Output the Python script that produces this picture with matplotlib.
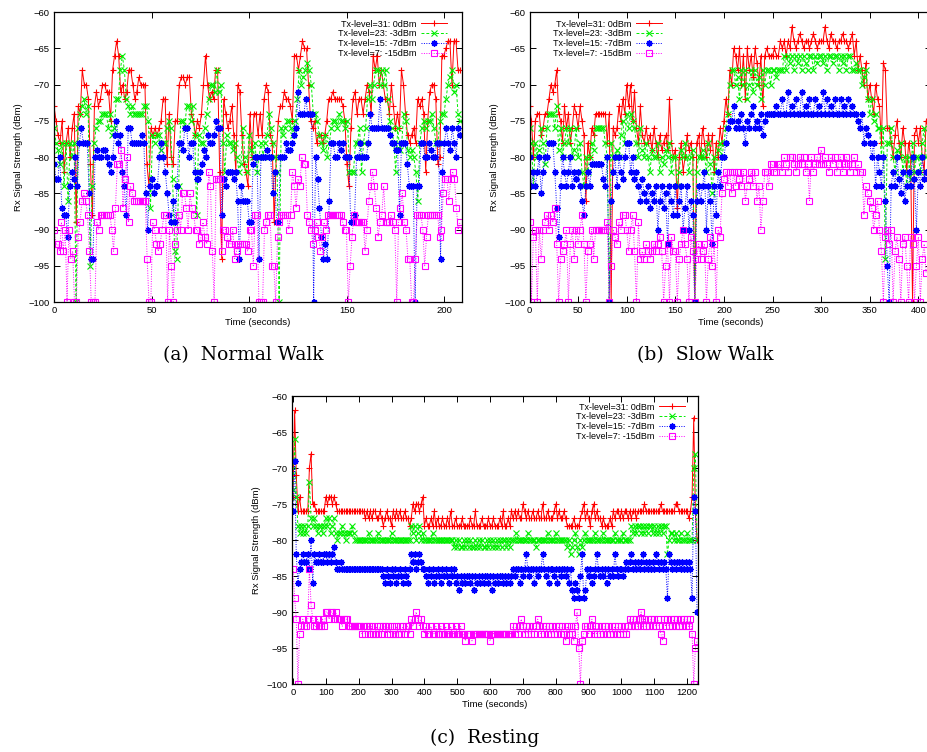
#!/usr/bin/env python3
"""Rx signal strength vs time at four Tx levels: normal walk, slow walk, resting."""

import matplotlib

matplotlib.use("Agg")
import matplotlib.pyplot as plt
import numpy as np

plt.rcParams["font.family"] = ["Liberation Sans", "DejaVu Sans"]

LABELS = ["Tx-level=31: 0dBm", "Tx-level=23: -3dBm", "Tx-level=15: -7dBm", "Tx-level=7: -15dBm"]
COLORS = ["#ff0000", "#00ee00", "#0000ff", "#ff00ff"]
CAPTIONS = ["(a)  Normal Walk", "(b)  Slow Walk", "(c)  Resting"]

# values are |dBm|; "v*n" = n repeated samples
# (a) normal walk, ~1 s samples over 0-208 s
RED_A = """73 75 77 78 75 82 78 76 80 76 74 89 73 74 68 70 70 72 81 88 73 71 73 72 70 70 71 71 75 68
66 64 66 71 70 72 71 68 68 70 72 71 69 70 70 70 81 84 76 77 76 77 76 75 72 72 81 74 80 81 75 75 70 69 69 70
69 69 74 75 77 75 76 74 70 66 70 72 71 72 68 68 82 94 72 74 76 75 73 77 82 70 71 77 81 82 84 74 80 74 74 77
74 77 72 70 71 77 78 89 80 75 73 73 71 72 72 73 75 66 66 68 66 64 65 65 70 75 76 75 78 77 77 78
77 75 72 72 71 72 72 72 72 73 75 81 84 76 72 71 74 72 72 74 72 70 71 74 66 68 66 70 68 70 72 72 74 70 73 76
74 76 68 70 74 77 78 77 76 78 72 73 72 74 82 75 71 70 70 72 81 80 66 66 65 64 64 70 64 64 68 68"""
GREEN_A = """76 78 79 81 78 84 78 86 78 80 78 100 76 74 73 72 74 73 95 84 78 76 75 75 74 74 74 76 74 77 76 72
72 68 66 68 72 73 74 73 74 74 74 74 74 73 73 75 87 77 78 77 77 79 78 78 76 75 76 83 93 94 84 75 75 76 73 73 75
73 77 88 77 78 78 76 74 72 70 70 71 68 71 70 78 82 77 78 78 79 78 80 82 81 76 80 82 77 79 80 78 82 80 78 80
78 77 74 76 78 80 82 100 76 77 76 75 75 76 77 75 72 68 70 69 68 67 68 70 74 74 75 77 78 79 77 80
78 76 75 75 76 74 75 75 76 75 82 82 82 78 78 76 82 78 76 72 70 72 70 68 68 70 68 70 68 72 75 76 78 82 76 79
78 74 75 79 80 79 80 82 86 78 76 75 76 75 75 74 76 78 78 75 74 74 72 70 69 68 71 70 74 75"""
BLUE_A = """81 83 83 80 87 88 88 91 84 82 83 80 84 78 76 78 78 78 85 94 94 80 79 80 80 79 79 80 81 82 80 77 75
78 77 82 84 88 76 76 78 78 78 78 78 77 78 85 90 84 83 85 84 84 80 78 80 82 85 88 89 86 89 84 78 78 79 76 76 80
78 78 82 83 83 82 81 79 80 77 78 78 77 75 76 76 88 83 84 82 82 82 83 82 86 94 84 86 86 86 89 89 81 80 80 94
80 80 80 79 80 80 85 82 89 89 80 80 80 78 79 79 78 77 76 71 74 74 74 72 74 74 74 100 80 83 87 91 94 92
94 86 78 78 80 80 78 79 78 80 80 80 89 89 88 80 80 78 80 80 80 78 74 76 76 76 76 72 76 76 76 76 77 78 78 79
79 88 78 78 78 81 84 84 84 100 84 84 78 78 80 80 78 79 80 80 78 78 94 82 78 76 78 79 76 78 80 76 77"""
MAG_A = """90 92 92 93 89 93 90 100 90 94 93 100 100 91 89 86 85 86 88 93 100 100 100 89 90 88 88 88 88 88 88
90 93 87 81 81 79 87 83 80 89 84 85 86 86 86 86 86 86 86 94 100 100 89 90 92 93 92 90 88 88 100 90 95 100 92
90 88 90 85 85 87 90
85 87 88 90 90 92 91 89 91 92 82 84 93 100 83 83 83 93 90 90 91 92 92 90 94 93 92 92 92 92 92 93 90 90 95 88
88 100 100 100 90 89 88 88 95 95 100 91 89 88 88 88 88 90 88 82 84 87 83 84 80 81 81 88 89 90 92 90 89 91 93 91 89
90 88 88 88 88 88 88 88 88 89 90 90 100 95 91 88 89 89 89 89 89 93 90 86 84 82 84 87 91 89 88 84 89 89 89 88
89 90 100 89 87 85 89 90 94 94 100 100 94 88 88 88 90 95 91 88 88 88 88 88 88 91 90 85 83 83 86 83 82 83 87 90 89"""

# (b) slow walk, 2 s samples over 0-408 s
RED_B = """73 75 80 75 74 74 77 76 74 74 72 70 71 70 68 74 75 78 73 76 74 78 76 73 74 76 73 75 77 86
78 80 76 77 74 74*5 78 74 100 76 77 76 73 75 72 74 70 73 70 75 71 76 78 73 77 78
76 78 77 79 76 78 80 77 79 78 77 79 72 78 80 79 87 80 78 82 80 77 79 78 80 100 78 77 80 76
78 80 77 79 77 82 78 80 76 78 75 72 74 68 70 65 66 68 65 70 66 72 65 68 66 69 65 67 70 66
73 66 65 66 66 66 65 66 66 64 65 64 66 64 65 62 64 65 64 63 64 65 64 64 65 64 63 64 65 64
64 64 62 64 65 63 64 64 65 64 64 63 64 64 65 64 63 66 64 68 66 68 70 67 72 70 72 74 70 72
73 78 67 68 76 76 78 80 77 75 78 80 76 78 82 78 80 100 77 76 78 76 80 82 75"""
GREEN_B = """76 78 84 78 80 79 76 78 81 76 74 74 74 76 73 79 76 80 78 76 78 76 80 79 76 80 78 82 84 80
82 80 78 79 76 76 76 76 76 78 80 100 78 80 80 79 80 77 75 78 74 76 74 75 76 78 80 76 79 80
78 80 82 79 80 80 78 82 80 81 79 80 78 82 80 80 84 82 79 80 78 80 82 80 79 100 82 80 80 79
80 82 78 81 85 80 82 79 78 80 78 76 74 70 68 68 70 69 72 68 70 68 72 70 68 71 68 70 69 72
68 70 68 68 70 68 68 69 68 68 68 66 68 66 67 66 68 66 67 66 68 66 67 68 66 66 68 66 67 66
66 67 66 68 66 66 67 66 66 68 66 67 66 68 66 66 68 68 67 68 68 70 69 68 72 74 72 75 74 76
76 80 76 94 78 78 76 80 82 79 80 78 82 80 84 80 83 78 82 80 80 82 78 76 80"""
BLUE_B = """80 84 82 84 82 80 85 82 80 80 78 78 78 82 87 91 84 80 82 84 82 80 84 82 83 82 84 86 88 84
82 84 81 81 81 81 81 81 83 84 80 100 86 82 80 84 80 82 83 80 78 78 82 80 83 82 84 86 83 85
86 84 87 85 86 84 90 86 84 87 85 92 84 86 88 84 88 86 84 90 87 84 90 86 88 100 86 84 86 84
82 90 84 86 92 84 88 82 84 80 80 78 76 75 75 73 76 75 76 74 76 78 75 76 74 73 76 75 76 74
77 75 74 74 74 74 74 73 74 74 72 74 74 71 74 73 74 72 74 74 71 74 73 74 72 74 74 72 74 73
74 71 74 72 74 73 74 72 74 74 72 74 73 74 72 74 73 74 74 75 76 74 78 76 77 78 80 78 84 80
82 84 80 86 95 100 84 82 84 80 83 85 82 86 84 82 84 80 83 90 82 84 80 83 82"""
MAG_B = """89 100 91 90 100 90 94 90 89 88 90 88 89 87 92 100 94 93 92 90 100 92 90 94 90 92 90 88 92 100
93 92 90 94 90 90*5 89 100 95 90 91 92 89 90 88 88 90 93 90 88 93 100 89 94 93 94
92 93 94 93 92 93 92 91 93 100 95 92 100 91 93 93 100 94 92 90 92 94 100 91 93 100 94 92 94 93
92 100 94 91 95 92 100 90 91 85 83 82 84 82 85 82 84 82 83 84 82 86 84 83 82 84 82 86 84 90
86 82 82 84 81 81 82 82 81 81 82 80 81 82 80 80 81 82 81 80 81 80 82 81 86 80 82 81 80 81
79 81 80 81 82 80 81 80 82 81 80 82 81 80 81 82 81 80 82 81 82 82 88 84 85 86 87 90 88 86
90 93 100 91 90 92 90 100 93 91 94 100 92 91 95 100 91 92 100 95 91 100 94 92 96"""

# (c) resting, 5 s samples over 0-1230 s
RED_C = """74 62 71 76 74 76*5 70 68 75 75 76*6 74 75 74 74 75 74 75 76*17
77 76 77 76 77 76 76 77 77 76 77 78 77 76 77 77 78 76 77 76 77 76 77 77 76 77 77 78 77
75 76 75 75 76 75 74 78 77 78 78 77 78 76 78 77 78 78 77 78 78 77 78 76 78 78 77 78
78 78 77 78 78 78 78 77 78 78 76 78 78 78 77 78 78 78 77 78 78 77 78 78 78 77 78 76 78 78 77 78 76
77 76 77 76 77 77 75 76 77 76 77 77 76 77 77 76 77 77 75 77 77 76 77 77 77 76 75
77 76 77 77 76 77 78 78 78 78 77 78 78 78 77 76 75 77 76 77 78 76 75 77 76 77 77 78 77
78 78 78 77 78 76 77 76 76 77 76 77 76 76 77 76 77 76 76 77
76*4 75 76*9 75 76*8 75 75 76*6 77 76 74 63 76 80"""
GREEN_C = """73 66 74 78 79 78 79 78 79 78 72 77 78 77 78 79 78 78 79 78 77 78 77 79 78 77 79
80 79 79 78 79 80 79 79 79 78 79 80*8 79 80*5 79 80*7 79 80*11 78 79 78 80 79 78 80 79 80*5 79 80*12
81 80 81 80 81 81 80 81 80 81 80 81 81 80 81 80 81 80 81 81 80 81 80 81 80 81 80 81 80 81 80 80 81 80 81 80
80*2 79 80*6 79 80*4 81 80*6 79 80*4 79 80*6 81 80 82 81 80 79 81 82 80 81 80 79
80*5 79 80*4 79 80*6 79 80*4 79 80*4
78 79 78 79 78 78 79 78 79 78 79 78 78 79 78 79 78 79 78 79 78 78 82 80 79
79 80 79 80 80 79 80 80 80 79 80 80 80 70 68 80"""
BLUE_C = """76 69 82 86 84 83 82 83 83 82 84 80 86 82 83 83 82 83 83 82 82 83 82 83 82 81 83
84 84 83 84 84 84 84*21 84 85 86 84 85 86 84 85 84 86 85 84 85 86 84 85 86 84
82 83 82 84 83 82 83 84 84 85 86 84 85 84 86 85 84 85 86 84 85 84 85 86 84 85 84 86 85
87 85 86 85 86 85 85 86 85 87 85 86 85 86 85 86 85 85 86 85 87 85 86 85 86 85 85 86 85 86 85 86 85
84 85 84 84 86 84 85 84 82 84 85 84 84 86 84 85 84 84 82 84 85 84 86 84 84 85 84 86 84 85 84 84 85 84 86 84
87 88 86 87 88 85 82 88 87 84 85 84 86 85 84 82 84 85 84 85 84 86 84 85 84 85 82 84 85 84 84 85 84
83 84 83 82 84 83 84 83 84 83 82 84 83 84 83 84 83 84 82 83 84 83 84 83 84 88 82
83 84 83 84 83 83 84 83 84 83 84 83 84 88 74 76 90"""
MAG_C = """84 88 91 100 93 92 91 92 92 91 84 89 91 92 92 91 92 92 91 92 90 90 91 90 90 91 90
91 91 91 92 91 91 91 92*8
93 92 93 92 92 93 92 93 93 92 93 92 93 92 92 93 92 93 92 93 93 92 93 92 93 92 93 92 92 93
91 92 91 90 91 92 91 92 93 92 93 93 92 93 93 92 93 93 92 93 93 92 93 93 92 93 93 92 93 93 92 93
93 94 93 93 93 94 93 93 93 93 93 93 93 93 93 93 94 93 93*12
92 93 92 93 92 91 92 93 92 93 92 93 92 93 92 91 92 93 92 93 92 93 92 93 92 93 92 93 92 93
92 93 94 92 93 92 93 94 92 90 95 100 94 93 92
92 93 92 91 93 92 93 92 93 92 93 92 93 92 93 92 93 92 93 92 93 92 93 92 93 92
91 92 91 92 91 92 91 90 92 91 92 91 92 91 92 91 92 91 92 93 94 91 92
91 92 91 92 91 92 91 92 91 92 91 92 91 92 91 93 100 95 94"""

PANELS = [
    dict(series=[RED_A, GREEN_A, BLUE_A, MAG_A], tmax=208, xlim=(0, 209),
         xticks=range(0, 201, 50), rect=[54, 12, 462, 302], legend_at=(452, 15)),
    dict(series=[RED_B, GREEN_B, BLUE_B, MAG_B], tmax=408, xlim=(0, 413),
         xticks=range(0, 401, 50), rect=[529.5, 12, 931, 302], legend_at=(667, 15)),
    dict(series=[RED_C, GREEN_C, BLUE_C, MAG_C], tmax=1230, xlim=(-3, 1233),
         xticks=range(0, 1201, 100), rect=[292, 396, 698, 684], legend_at=(690, 398)),
]
CAPTION_AT = [(243, 355), (705, 355), (485, 738)]

STYLES = [
    dict(ls="-", marker="+", ms=5.0, mew=0.8),
    dict(ls=(0, (3, 2)), marker="x", ms=4.0, mew=0.8),
    dict(ls=(0, (1, 1.5)), marker=(8, 2, 0), ms=4.5, mew=1.0),
    dict(ls=(0, (1, 1.5)), marker="s", ms=4.0, mew=0.8, mfc="none"),
]

W, H = 927, 752


def parse(s):
    out = []
    for tok in s.split():
        if "*" in tok:
            v, n = tok.split("*")
            out += [-float(v)] * int(n)
        else:
            out.append(-float(tok))
    return np.array(out)


fig = plt.figure(figsize=(W / 100, H / 100), dpi=100)

for p, (cx, cy), cap in zip(PANELS, CAPTION_AT, CAPTIONS):
    x0, y0, x1, y1 = p["rect"]
    ax = fig.add_axes([x0 / W, 1 - y1 / H, (x1 - x0) / W, (y1 - y0) / H])
    for s, color, label, st in zip(p["series"], COLORS, LABELS, STYLES):
        y = parse(s)
        t = np.linspace(0, p["tmax"], len(y))
        ax.plot(t, y, color=color, lw=0.7, label=label, **st)
    ax.set_xlim(*p["xlim"])
    ax.set_ylim(-100, -60)
    ax.set_xticks(list(p["xticks"]))
    ax.set_yticks(range(-100, -59, 5))
    ax.tick_params(direction="in", length=4, width=0.7, labelsize=6.8,
                   top=True, right=True, pad=3)
    for sp in ax.spines.values():
        sp.set_linewidth(0.9)
    ax.set_xlabel("Time (seconds)", fontsize=6.8, labelpad=2)
    ax.set_ylabel("Rx Signal Strength (dBm)", fontsize=6.8, labelpad=4)
    lx, ly = p["legend_at"]
    ax.legend(loc="upper right", bbox_to_anchor=(lx / W, 1 - ly / H),
              bbox_transform=fig.transFigure, frameon=False, fontsize=6.5,
              markerfirst=False, alignment="right", handlelength=2.9,
              handletextpad=0.5, labelspacing=0.08, borderpad=0, numpoints=1)
    fig.text(cx / W, 1 - cy / H, cap, ha="center", va="center",
             fontsize=13.5, family="DejaVu Serif")

fig.savefig("out.png", dpi=100)
